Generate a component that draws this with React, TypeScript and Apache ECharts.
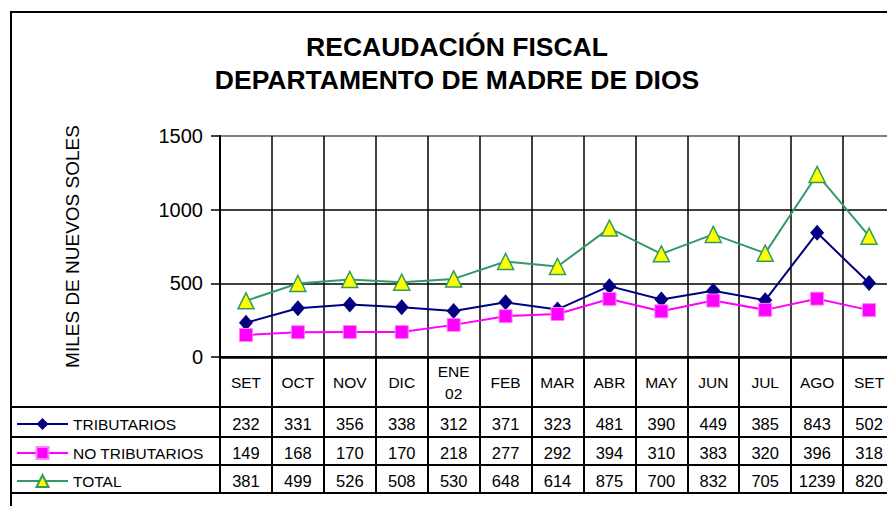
import React, { useEffect, useRef } from 'react';
import * as echarts from 'echarts';

const categories = ['SET', 'OCT', 'NOV', 'DIC', 'ENE\n02', 'FEB', 'MAR', 'ABR', 'MAY', 'JUN', 'JUL', 'AGO', 'SET'];
const tributarios = [232, 331, 356, 338, 312, 371, 323, 481, 390, 449, 385, 843, 502];
const noTributarios = [149, 168, 170, 170, 218, 277, 292, 394, 310, 383, 320, 396, 318];
const total = [381, 499, 526, 508, 530, 648, 614, 875, 700, 832, 705, 1239, 820];
const seriesNames = ['TRIBUTARIOS', 'NO TRIBUTARIOS', 'TOTAL'];
const titleLines = ['RECAUDACIÓN FISCAL', 'DEPARTAMENTO DE MADRE DE DIOS'];
const yAxisName = 'MILES DE NUEVOS SOLES';
const yMin = 0;
const yMax = 1500;
const yInterval = 500;

const FONT = '"Liberation Sans", Arial, Helvetica, sans-serif';

export default function App() {
  const ref = useRef<HTMLDivElement>(null);

  useEffect(() => {
    const chart = echarts.init(ref.current!, null, { renderer: 'svg' });
    const plotLeft = 220;
    const plotWidth = 675;
    const rows = [
      { top: 407, height: 30 },
      { top: 437, height: 28 },
      { top: 465, height: 28 },
    ];
    const rowValues = [tributarios, noTributarios, total];

    const grids: any[] = [
      { left: plotLeft, top: 136, width: plotWidth, height: 221, show: true, borderColor: '#808080', borderWidth: 2, backgroundColor: 'transparent', outerBoundsMode: 'none' },
      { left: plotLeft, top: 357, width: plotWidth, height: 50, outerBoundsMode: 'none' },
      ...rows.map((r) => ({ left: plotLeft, top: r.top, width: plotWidth, height: r.height, outerBoundsMode: 'none' })),
      ...rows.map((r) => ({ left: 11, top: r.top, width: 884, height: r.height, show: true, borderColor: '#000', borderWidth: 2, backgroundColor: 'transparent', outerBoundsMode: 'none' })),
    ];

    const tableSplit = { show: true, lineStyle: { color: '#000', width: 2 } };

    const xAxes: any[] = [
      {
        gridIndex: 0, type: 'category', data: categories, boundaryGap: true,
        axisLine: { show: true, onZero: false, lineStyle: { color: '#000', width: 2.5 } },
        axisTick: { show: false }, axisLabel: { show: false },
        splitLine: { show: true, lineStyle: { color: '#000', width: 1.5 } },
      },
      {
        gridIndex: 1, type: 'category', data: categories, boundaryGap: true,
        axisLine: { show: false }, axisTick: { show: false },
        axisLabel: { interval: 0, margin: -25, verticalAlign: 'middle', fontSize: 15.5, lineHeight: 22, color: '#000', fontFamily: FONT },
        splitLine: tableSplit,
      },
      ...rows.map((r, i) => ({
        gridIndex: 2 + i, type: 'category', data: categories, boundaryGap: true,
        axisLine: { show: false }, axisTick: { show: false },
        axisLabel: {
          interval: 0, margin: -(r.height / 2 - 2), verticalAlign: 'middle', fontSize: 16.5, color: '#000', fontFamily: FONT,
          formatter: (_v: string, idx: number) => String(rowValues[i][idx]),
        },
        splitLine: tableSplit,
      })),
      ...rows.map((_r, i) => ({ gridIndex: 5 + i, type: 'value', show: false })),
    ];

    const yAxes: any[] = [
      {
        gridIndex: 0, type: 'value', min: yMin, max: yMax, interval: yInterval,
        name: yAxisName, nameLocation: 'middle', nameGap: 138, nameRotate: 90,
        nameTextStyle: { fontSize: 19, color: '#000', fontFamily: FONT },
        axisLine: { show: true, lineStyle: { color: '#000', width: 2 } },
        axisTick: { show: true, length: 9, lineStyle: { color: '#000', width: 1.5 } },
        axisLabel: { fontSize: 20, color: '#000', margin: 17, fontFamily: FONT, formatter: (v: number) => String(v) },
        splitLine: { show: true, showMaxLine: false, lineStyle: { color: '#000', width: 1.5 } },
      },
      ...[1, 2, 3, 4, 5, 6, 7].map((g) => ({ gridIndex: g, type: 'value', show: false })),
    ];

    const legends = seriesNames.map((name, i) => ({
      data: [name],
      left: 16,
      top: rows[i].top + rows[i].height / 2 + 1.5 - 7.5,
      orient: 'horizontal',
      padding: 0,
      itemWidth: 51,
      itemHeight: 15,
      itemGap: 0,
      selectedMode: false,
      textStyle: { fontSize: 15.5, color: '#000', fontFamily: FONT, padding: [3, 0, 0, 0] },
    }));

    chart.setOption({
      animation: false,
      backgroundColor: '#fff',
      grid: grids,
      xAxis: xAxes,
      yAxis: yAxes,
      legend: legends,
      series: [
        {
          name: seriesNames[0], type: 'line', xAxisIndex: 0, yAxisIndex: 0, data: tributarios,
          symbol: 'diamond', symbolSize: [14, 16],
          lineStyle: { color: '#000080', width: 2 },
          itemStyle: { color: '#000080' },
        },
        {
          name: seriesNames[1], type: 'line', xAxisIndex: 0, yAxisIndex: 0, data: noTributarios,
          symbol: 'rect', symbolSize: 13,
          lineStyle: { color: '#FF00FF', width: 2 },
          itemStyle: { color: '#FF00FF', borderColor: '#FF80FF', borderWidth: 1 },
        },
        {
          name: seriesNames[2], type: 'line', xAxisIndex: 0, yAxisIndex: 0, data: total,
          symbol: 'triangle', symbolSize: 16,
          lineStyle: { color: '#339966', width: 2 },
          itemStyle: { color: '#FFFF00', borderColor: '#339966', borderWidth: 1.5 },
        },
      ],
      graphic: [
        { type: 'rect', shape: { x: 11, y: 12, width: 1000, height: 1000 }, style: { fill: 'none', stroke: '#000', lineWidth: 2 }, z: 100 },
        ...titleLines.map((t, i) => ({
          type: 'text', x: 457, y: 47 + i * 33,
          style: { text: t, fontSize: 26.5, fontWeight: 'bold', fontFamily: FONT, fill: '#000', align: 'center', verticalAlign: 'middle' },
        })),
      ],
    });

    return () => chart.dispose();
  }, []);

  return <div ref={ref} style={{ position: 'fixed', left: 0, top: 0, width: 887, height: 506 }} />;
}
